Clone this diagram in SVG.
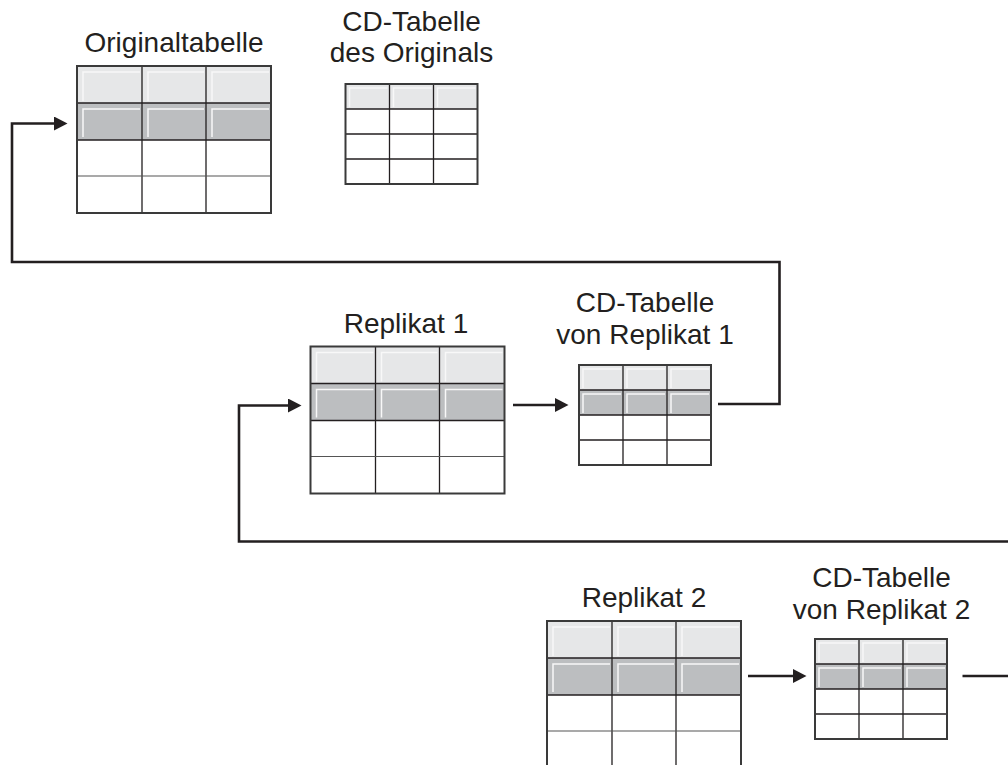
<svg xmlns="http://www.w3.org/2000/svg" xmlns:xlink="http://www.w3.org/1999/xlink" width="1008" height="765" viewBox="0 0 1008 765">
  <style>
    .lbl { font-family: "Liberation Sans", Arial, sans-serif; font-size: 28px; fill: #231f20; text-anchor: middle; }
    .conn { fill: none; stroke: #231f20; stroke-width: 2.6; }
    .light { fill: #e6e7e8; }
    .dark { fill: #bcbec0; }
    .white { fill: #ffffff; }
    .hl { fill: none; stroke: #f8f8f8; stroke-width: 1.5; }
    .grid { fill: none; stroke: #231f20; stroke-width: 1.3; }
    .gridg { fill: none; stroke: #555555; stroke-width: 1.2; }
    .frame { fill: none; stroke: #3a3a3a; stroke-width: 2; }
  </style>
  <defs>
    <marker id="arrow" markerUnits="userSpaceOnUse" markerWidth="14" markerHeight="14" refX="0" refY="7" orient="auto">
      <path d="M0,0 L13.5,7 L0,14 Z" fill="#231f20"/>
    </marker>
    <g id="bigTable">
      <rect class="light" x="0" y="0" width="194" height="37"/>
      <rect class="dark" x="0" y="37" width="194" height="37"/>
      <rect class="white" x="0" y="74" width="194" height="73"/>
      <path class="hl" d="M6,35 V6 H63 M71,35 V6 H127 M135,35 V6 H192 M6,71 V43 H63 M71,71 V43 H127 M135,71 V43 H192"/>
      <path class="grid" d="M0,37 H194 M0,74 H194 M65,0 V147 M129,0 V147"/>
      <path class="gridg" d="M0,110 H194"/>
      <rect class="frame" x="0" y="0" width="194" height="147"/>
    </g>
    <g id="smallTable">
      <rect class="light" x="0" y="0" width="132" height="25"/>
      <rect class="dark" x="0" y="25" width="132" height="25"/>
      <rect class="white" x="0" y="50" width="132" height="50"/>
      <path class="hl" d="M4,23 V4 H42 M48,23 V4 H86 M92,23 V4 H130 M4,48 V29 H42 M48,48 V29 H86 M92,48 V29 H130"/>
      <path class="grid" d="M0,25 H132 M0,50 H132 M0,75 H132 M44,0 V100 M88,0 V100"/>
      <rect class="frame" x="0" y="0" width="132" height="100"/>
    </g>
    <g id="smallTableHeaderOnly">
      <rect class="light" x="0" y="0" width="132" height="25"/>
      <rect class="white" x="0" y="25" width="132" height="75"/>
      <path class="hl" d="M4,23 V4 H42 M48,23 V4 H86 M92,23 V4 H130"/>
      <path class="grid" d="M0,25 H132 M0,50 H132 M0,75 H132 M44,0 V100 M88,0 V100"/>
      <rect class="frame" x="0" y="0" width="132" height="100"/>
    </g>
  </defs>

  <g id="original">
    <text class="lbl" x="174" y="52">Originaltabelle</text>
    <use xlink:href="#bigTable" x="77" y="66"/>
  </g>
  <g id="cd-original">
    <text class="lbl" x="411.5" y="31">CD-Tabelle</text>
    <text class="lbl" x="411.5" y="62">des Originals</text>
    <use xlink:href="#smallTableHeaderOnly" x="345.5" y="84"/>
  </g>
  <g id="replikat1">
    <text class="lbl" x="406" y="333">Replikat 1</text>
    <use xlink:href="#bigTable" x="310.5" y="346.5"/>
  </g>
  <g id="cd-replikat1">
    <text class="lbl" x="645" y="312">CD-Tabelle</text>
    <text class="lbl" x="645" y="344">von Replikat 1</text>
    <use xlink:href="#smallTable" x="579" y="365"/>
  </g>
  <g id="replikat2">
    <text class="lbl" x="644" y="607">Replikat 2</text>
    <use xlink:href="#bigTable" x="547" y="621"/>
  </g>
  <g id="cd-replikat2">
    <text class="lbl" x="881.5" y="587">CD-Tabelle</text>
    <text class="lbl" x="881.5" y="619">von Replikat 2</text>
    <use xlink:href="#smallTable" x="815" y="639"/>
  </g>

  <g id="connectors">
    <path class="conn" d="M718,404 H779.5 V262 H12 V123.5 H54" marker-end="url(#arrow)"/>
    <path class="conn" d="M513,405 H555" marker-end="url(#arrow)"/>
    <path class="conn" d="M1008,541.5 H239 V405.5 H288" marker-end="url(#arrow)"/>
    <path class="conn" d="M748,676 H793" marker-end="url(#arrow)"/>
    <path class="conn" d="M962.5,676 H1008"/>
  </g>
</svg>
